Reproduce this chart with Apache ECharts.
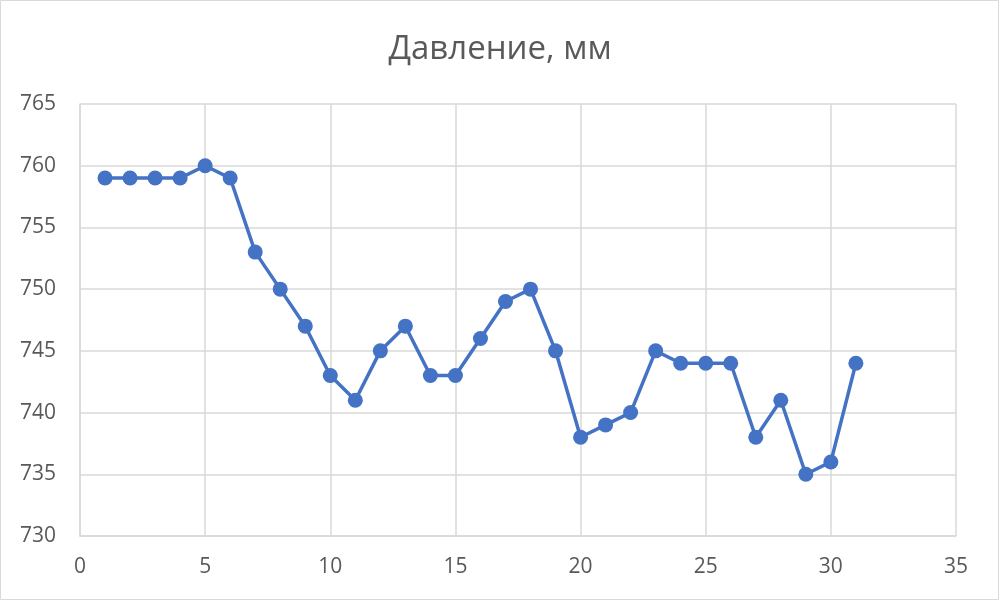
<!DOCTYPE html>
<html>
<head>
<meta charset="utf-8">
<script src="https://cdn.jsdelivr.net/npm/echarts@6/dist/echarts.min.js"></script>
<style>html,body{margin:0;padding:0;background:#fff}#c{width:1000px;height:601px}</style>
</head>
<body>
<div id="c"></div>
<script>
const days = [1,2,3,4,5,6,7,8,9,10,11,12,13,14,15,16,17,18,19,20,21,22,23,24,25,26,27,28,29,30,31];
const pressure = [759,759,759,759,760,759,753,750,747,743,741,745,747,743,743,746,749,750,745,738,739,740,745,744,744,744,738,741,735,736,744];
const titleText = 'Давление, мм';
const chart = echarts.init(document.getElementById('c'), null, {renderer:'canvas'});
const font = 'Open Sans, Noto Sans, sans-serif';
chart.setOption({
  animation:false,
  backgroundColor:'#fff',
  title:{text:titleText,left:'center',top:28,textStyle:{fontFamily:font,fontSize:33,fontWeight:'normal',color:'#595959'}},
  graphic:[{type:'rect',shape:{x:0.5,y:0.5,width:998,height:599},style:{fill:'none',stroke:'#d9d9d9',lineWidth:1},silent:true}],
  grid:{left:80,right:44,top:104,bottom:65,containLabel:false},
  xAxis:{type:'value',min:0,max:35,interval:5,
    axisLine:{show:true,lineStyle:{color:'#d9d9d9',width:1.5}},axisTick:{show:false},
    splitLine:{show:true,lineStyle:{color:'#d9d9d9',width:1.5}},
    axisLabel:{fontFamily:font,fontSize:21,color:'#595959',margin:21}},
  yAxis:{type:'value',min:730,max:765,interval:5,
    axisLine:{show:true,lineStyle:{color:'#d9d9d9',width:1.5}},axisTick:{show:false},
    splitLine:{show:true,lineStyle:{color:'#d9d9d9',width:1.5}},
    axisLabel:{fontFamily:font,fontSize:21,color:'#595959',margin:24}},
  series:[{type:'line',data:days.map((d,i)=>[d,pressure[i]]),
    lineStyle:{color:'#4472C4',width:3.5},itemStyle:{color:'#4472C4'},
    symbol:'circle',symbolSize:15,showAllSymbol:true}]
});
</script>
</body>
</html>
